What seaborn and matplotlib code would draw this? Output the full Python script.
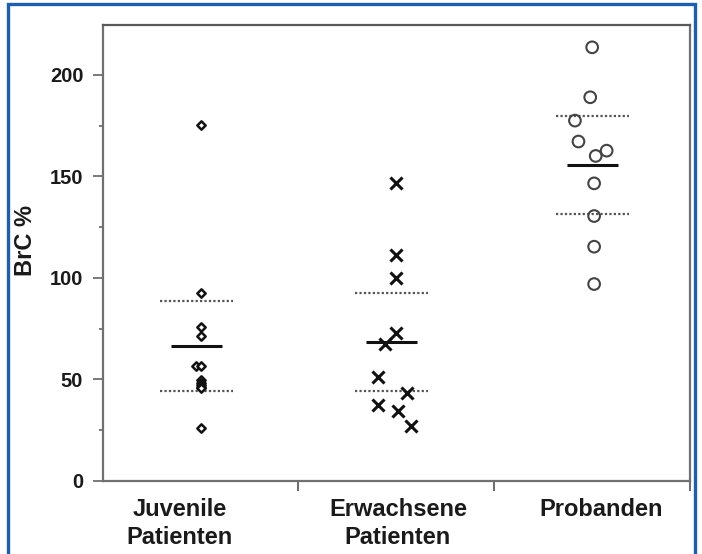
import numpy as np
import pandas as pd
import matplotlib
matplotlib.use("Agg")
import matplotlib.pyplot as plt
from matplotlib.patches import Rectangle
import seaborn as sns

# ---------------- data ----------------
categories = ["Juvenile\nPatienten", "Erwachsene\nPatienten", "Probanden"]

juvenile = [175.4, 92.8, 76.0, 71.6, 56.7, 56.7, 49.5, 48.5, 47.5, 46.5, 46.0, 26.0]
erwachsene = [147.0, 111.3, 99.8, 72.7, 67.5, 51.1, 43.2, 37.4, 34.6, 27.2]
probanden = [213.6, 189.0, 177.5, 167.2, 162.7, 160.1, 146.6, 130.5, 115.4, 97.0]

mean_values = [66.5, 68.6, 155.7]
upper_values = [88.7, 92.8, 179.8]
lower_values = [44.5, 44.5, 131.5]

y_ticks = [0, 50, 100, 150, 200]
y_minor_ticks = [25, 75, 125, 175]

# ---------------- layout (horizontal spread of the points) ----------------
juv_offsets = [0, 0, 0, 0, -0.025, 0.0, 0, 0, 0, 0, 0, 0]
erw_offsets = [0, 0, 0, 0, -0.058, -0.094, 0.055, -0.094, 0.008, 0.075]
pro_offsets = [0.0, -0.01, -0.088, -0.07, 0.074, 0.018, 0.01, 0.01, 0.01, 0.01]
line_offsets = [-0.02, -0.025, 0.0]
label_positions = [-0.108, 1.008, 2.047]

sns.set_theme(style="ticks")
plt.rcParams["font.family"] = ["Liberation Sans", "DejaVu Sans"]
plt.rcParams["font.weight"] = "bold"

fig = plt.figure(figsize=(7.02, 5.54), dpi=100)
ax = fig.add_axes([0.1463, 0.1318, 0.8367, 0.8231])


def make_df(vals, offs, idx):
    return pd.DataFrame({"x": np.array(offs) + idx, "y": vals})


df_j = make_df(juvenile, juv_offsets, 0)
df_e = make_df(erwachsene, erw_offsets, 1)
df_p = make_df(probanden, pro_offsets, 2)

sns.scatterplot(data=df_j, x="x", y="y", marker="D", s=18, facecolor="white",
                edgecolor="#111111", linewidth=1.8, ax=ax, zorder=4)
sns.scatterplot(data=df_e, x="x", y="y", marker="x", s=75, color="#111111",
                linewidth=2.2, ax=ax, zorder=4)
sns.scatterplot(data=df_p, x="x", y="y", marker="o", s=70, facecolor="none",
                edgecolor="#444444", linewidth=1.5, ax=ax, zorder=4)

# mean and spread lines
for i, (o, m, u, l) in enumerate(zip(line_offsets, mean_values, upper_values, lower_values)):
    c = i + o
    ax.hlines(m, c - 0.13, c + 0.13, color="#111111", linewidth=2.2, zorder=3)
    for v in (u, l):
        ax.hlines(v, c - 0.186, c + 0.186, color="#555555", linewidth=1.6,
                  linestyles=(0, (1, 1)), zorder=3)

ax.set_xlim(-0.5, 2.5)
ax.set_ylim(0, 224.6)

# y axis ticks
ax.set_yticks(y_ticks)
ax.set_yticklabels([str(t) for t in y_ticks])
ax.set_yticks(y_minor_ticks, minor=True)
ax.tick_params(axis="y", which="major", length=7, width=1.3, color="#707070",
               direction="out", pad=7, labelsize=14.5, labelcolor="#1a1a1a")
ax.tick_params(axis="y", which="minor", length=3, width=1.3, color="#707070",
               direction="out")

# x axis ticks: boundaries get marks, labels sit between
ax.set_xticks([0.5, 1.5, 2.5])
ax.set_xticklabels(["", "", ""])
ax.set_xticks(label_positions, minor=True)
ax.set_xticklabels(categories, minor=True)
ax.tick_params(axis="x", which="major", length=7, width=1.5, color="#707070",
               direction="out")
ax.tick_params(axis="x", which="minor", length=0, pad=12, labelsize=17,
               labelcolor="#1a1a1a")
for t in ax.get_xticklabels(minor=True):
    t.set_fontweight("bold")
    t.set_linespacing(1.3)
for t in ax.get_yticklabels():
    t.set_fontweight("bold")

ax.set_xlabel("")
ax.set_ylabel("BrC %", fontsize=17, fontweight="bold", color="#1a1a1a")
ax.yaxis.set_label_coords(-0.112, 0.528)

for side in ["left", "right", "top", "bottom"]:
    ax.spines[side].set_visible(True)
    ax.spines[side].set_color("#707070")
    ax.spines[side].set_linewidth(1.6)
ax.spines["top"].set_color("#5a5a5a")

# blue frame around the figure
fig.patches.append(Rectangle((8 / 702, -0.02), (695 - 8) / 702, 1.0128,
                             transform=fig.transFigure, fill=False,
                             edgecolor="#1b5fb5", linewidth=2.4))

fig.savefig("out.png", dpi=100)
